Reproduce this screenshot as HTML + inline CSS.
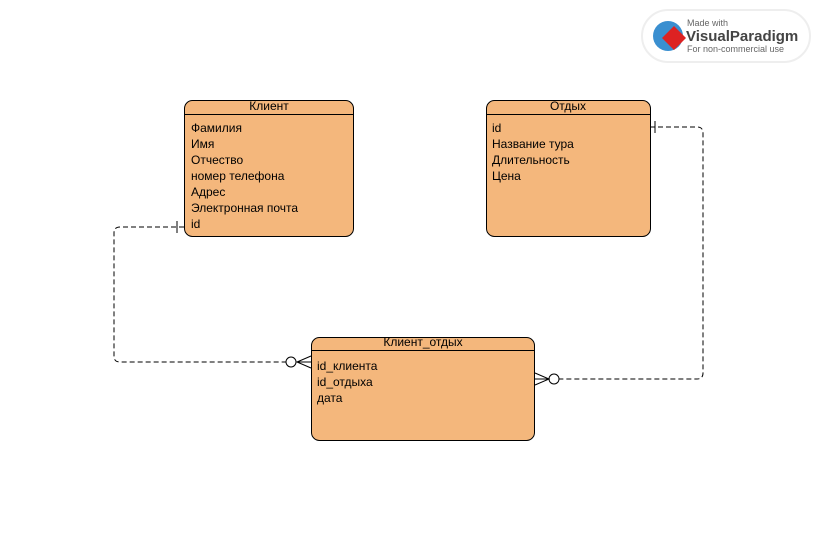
<!DOCTYPE html>
<html><head><meta charset="utf-8"><style>
body{margin:0;background:#fff;width:818px;height:542px;overflow:hidden;font-family:"Liberation Sans",sans-serif;}
</style></head><body>
<svg width="818" height="542" xmlns="http://www.w3.org/2000/svg" font-family="Liberation Sans, sans-serif" font-size="12">
<!-- logo -->
<rect x="642" y="10" width="168" height="52" rx="26" fill="#fff" stroke="#eee" stroke-width="2"/>
<circle cx="668" cy="36" r="15" fill="#3a8fd0"/>
<path d="M668 24 L680 36 L668 48 L656 36Z" fill="#d22" transform="translate(6,2)"/>
<text x="687" y="26" font-size="9" fill="#666">Made with</text>
<text x="686" y="41" font-size="15" font-weight="bold" fill="#444">VisualParadigm</text>
<text x="687" y="52" font-size="9" fill="#666">For non-commercial use</text>
<!-- connectors -->
<g fill="none" stroke="#000" stroke-width="1" stroke-dasharray="5,3">
<path d="M184 227 H120 Q114 227 114 233 V356 Q114 362 120 362 H286"/>
<path d="M650 127 H697 Q703 127 703 133 V373 Q703 379 697 379 H559"/>
</g>
<g fill="none" stroke="#000" stroke-width="1">
<line x1="177" y1="221" x2="177" y2="233"/>
<circle cx="291" cy="362" r="5" fill="#fff"/>
<path d="M311 356 L297 362 L311 368 M297 362 H311"/>
<line x1="655" y1="121" x2="655" y2="133"/>
<circle cx="554" cy="379" r="5" fill="#fff"/>
<path d="M535 373 L549 379 L535 385 M535 379 H549"/>
</g>
<!-- boxes -->
<g stroke="#000" stroke-width="1" fill="#f4b77c">
<rect x="184.5" y="100.5" width="169" height="136" rx="8"/>
<rect x="486.5" y="100.5" width="164" height="136" rx="8"/>
<rect x="311.5" y="337.5" width="223" height="103" rx="8"/>
<line x1="184.5" y1="114.5" x2="353.5" y2="114.5"/>
<line x1="486.5" y1="114.5" x2="650.5" y2="114.5"/>
<line x1="311.5" y1="350.5" x2="534.5" y2="350.5"/>
</g>
<g fill="#000">
<text x="269" y="110" text-anchor="middle">Клиент</text>
<text x="191" y="132">Фамилия</text>
<text x="191" y="148">Имя</text>
<text x="191" y="164">Отчество</text>
<text x="191" y="180">номер телефона</text>
<text x="191" y="196">Адрес</text>
<text x="191" y="212">Электронная почта</text>
<text x="191" y="228">id</text>
<text x="568" y="110" text-anchor="middle">Отдых</text>
<text x="492" y="132">id</text>
<text x="492" y="148">Название тура</text>
<text x="492" y="164">Длительность</text>
<text x="492" y="180">Цена</text>
<text x="423" y="346" text-anchor="middle">Клиент_отдых</text>
<text x="317" y="370">id_клиента</text>
<text x="317" y="386">id_отдыха</text>
<text x="317" y="402">дата</text>
</g>
</svg>
</body></html>
